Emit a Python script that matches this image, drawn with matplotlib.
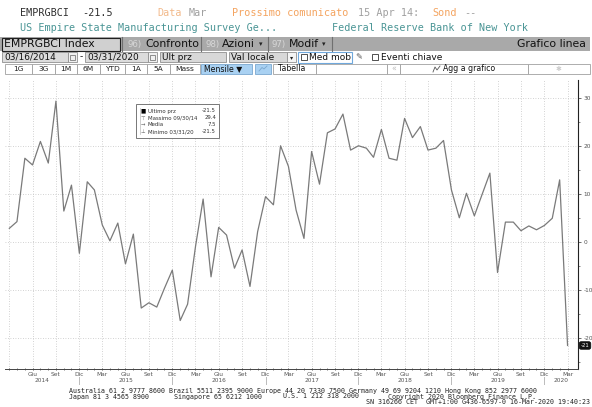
import matplotlib
matplotlib.use("Agg")
import matplotlib.pyplot as plt
import matplotlib.dates as mdates
from matplotlib.patches import Rectangle, FancyBboxPatch
import pandas as pd

# ---------------- data ----------------
start_month = "2014-03-31"
values = [
    2.9, 4.3, 17.5, 16.1, 21.0, 16.5, 29.4, 6.5, 11.9, -2.3,                      # 2014 Mar-Dec
    12.6, 10.9, 3.6, 0.3, 4.0, -4.5, 1.7, -13.7, -12.6, -13.5, -9.6, -5.8,        # 2015
    -16.3, -12.9, -0.9, 9.0, -7.2, 3.1, 1.5, -5.4, -1.6, -9.2, 2.2, 9.5,          # 2016
    7.8, 20.1, 15.8, 6.7, 0.8, 18.9, 12.1, 22.8, 23.6, 26.7, 19.2, 20.1,          # 2017
    19.6, 17.7, 23.5, 17.5, 17.1, 25.8, 21.8, 24.1, 19.2, 19.6, 21.2, 10.9,       # 2018
    5.1, 10.2, 5.5, 9.9, 14.4, -6.3, 4.2, 4.2, 2.4, 3.4, 2.6, 3.5,                # 2019
    5.0, 13.0, -21.5,                                                             # 2020 Jan-Mar
]
month_names = {3: "Mar", 6: "Giu", 9: "Set", 12: "Dic"}
years = [2014, 2015, 2016, 2017, 2018, 2019, 2020]
y_ticks = [-20, -10, 0, 10, 20, 30]

legend_rows = [("Ultimo prz", "-21.5"), ("Massimo 09/30/14", "29.4"),
               ("Media", "7.5"), ("Minimo 03/31/20", "-21.5")]

dates = pd.date_range(start_month, periods=len(values), freq="ME")
xd = mdates.date2num(dates.to_pydatetime())

W, H = 592, 407
fig = plt.figure(figsize=(W / 100, H / 100), dpi=100)
fig.patch.set_facecolor("white")

# ---------------- pixel overlay (header / footer) ----------------
ov = fig.add_axes([0, 0, 1, 1], zorder=0)
ov.set_xlim(0, W)
ov.set_ylim(H, 0)
ov.axis("off")

MONO = "DejaVu Sans Mono"
SANS = "DejaVu Sans"
cw = 6.25
def mono(idx, y, s, color, size=7.3):
    ov.text(20 + idx * cw, y, s, family=MONO, fontsize=size, color=color,
            va="center", ha="left")

orange = "#f4a460"
lgray = "#a0a0a0"
mono(0, 13, "EMPRGBCI", "#303030")
mono(10, 13, "-21.5", "#303030")
mono(22, 13, "Data", "#f2b98a")
mono(27, 13, "Mar", lgray)
mono(34, 13, "Prossimo comunicato", orange)
mono(54, 13, "15 Apr 14:", lgray)
mono(66, 13, "Sond", orange)
mono(71, 13, "--", lgray)
teal = "#4a9595"
mono(0, 28, "US Empire State Manufacturing Survey Ge...", teal)
mono(50, 28, "Federal Reserve Bank of New York", teal)

# toolbar 1
TB = 7.8
ov.add_patch(Rectangle((0, 37), 590, 14, facecolor="#a9a9a9", edgecolor="none"))
ov.add_patch(Rectangle((1.5, 37.5), 118, 13, facecolor="#d0d0d0", edgecolor="#202020", lw=0.8))
ov.text(3.5, 44.2, "EMPRGBCI Index", family=SANS, fontsize=TB, va="center", color="#111")
for xs in (122, 201, 268, 332):
    ov.plot([xs, xs], [37, 51], color="#707070", lw=0.8)
ov.text(127, 44.2, "96)", family=SANS, fontsize=6.2, va="center", color="#d8d8d8")
ov.text(145, 44.2, "Confronto", family=SANS, fontsize=TB, va="center", color="#111")
ov.text(205, 44.2, "98)", family=SANS, fontsize=6.2, va="center", color="#d8d8d8")
ov.text(222, 44.2, "Azioni", family=SANS, fontsize=TB, va="center", color="#111")
ov.text(259, 44.5, "▾", family=SANS, fontsize=5, va="center", color="#222")
ov.text(272, 44.2, "97)", family=SANS, fontsize=6.2, va="center", color="#d8d8d8")
ov.text(289, 44.2, "Modif", family=SANS, fontsize=TB, va="center", color="#111")
ov.text(322, 44.5, "▾", family=SANS, fontsize=5, va="center", color="#222")
ov.text(586, 44.2, "Grafico linea", family=SANS, fontsize=TB, va="center", ha="right", color="#111")

# row 2
def box(x, y, w, h, fc, ec="#909090", lw=0.6):
    ov.add_patch(Rectangle((x, y), w, h, facecolor=fc, edgecolor=ec, lw=lw))
R2 = 6.5
box(2, 52, 66, 10, "#dcdcdc")
box(68, 52, 9, 10, "#f0f0f0")
ov.add_patch(Rectangle((70, 54.5), 5, 5, facecolor="none", edgecolor="#666", lw=0.5))
ov.text(4, 57.2, "03/16/2014", family=SANS, fontsize=R2, va="center", color="#111")
ov.text(80, 57, "-", family=SANS, fontsize=R2, va="center", color="#111")
box(85, 52, 63, 10, "#dcdcdc")
box(148, 52, 9, 10, "#f0f0f0")
ov.add_patch(Rectangle((150, 54.5), 5, 5, facecolor="none", edgecolor="#666", lw=0.5))
ov.text(87, 57.2, "03/31/2020", family=SANS, fontsize=R2, va="center", color="#111")
box(160, 52, 66, 10, "#d8d8d8")
ov.text(162, 57.2, "Ult prz", family=SANS, fontsize=R2, va="center", color="#111")
box(229, 52, 58, 10, "#d8d8d8")
box(287, 52, 9, 10, "#f4f4f4")
ov.text(231, 57.2, "Val locale", family=SANS, fontsize=R2, va="center", color="#111")
ov.text(289.5, 57.5, "▾", family=SANS, fontsize=4.5, va="center", color="#222")
box(298, 51.5, 54, 11, "white", ec="#6fa8dc", lw=0.8)
box(300.5, 54, 6, 6, "white", ec="#333", lw=0.6)
ov.text(309, 57.2, "Med mob", family=SANS, fontsize=R2, va="center", color="#111")
ov.text(355, 57.2, "✎", family=SANS, fontsize=6, va="center", color="#555")
box(372, 54, 6, 6, "white", ec="#333", lw=0.6)
ov.text(381, 57.2, "Eventi chiave", family=SANS, fontsize=R2, va="center", color="#111")

# row 3 buttons
btn_edges = [5, 31.7, 55, 76.7, 100, 125, 146.7, 170, 200]
btn_labels = ["1G", "3G", "1M", "6M", "YTD", "1A", "5A", "Mass"]
for i, lab in enumerate(btn_labels):
    x0, x1 = btn_edges[i], btn_edges[i + 1]
    box(x0, 63.5, x1 - x0, 10, "white", ec="#a0a0a0")
    ov.text((x0 + x1) / 2, 68.7, lab, family=SANS, fontsize=5.4, va="center", ha="center", color="#222")
box(201, 63.5, 51, 10, "#a9d1f2", ec="#7aa7cf")
ov.text(204, 68.7, "Mensile ▼", family=SANS, fontsize=5.6, va="center", color="#111")
box(255, 63.5, 16, 10, "#a9d1f2", ec="#7aa7cf")
ov.plot([259, 262, 264, 267], [71, 67.5, 69, 66], color="#7aa7cf", lw=0.6)
box(273, 63.5, 43, 10, "white", ec="#a0a0a0")
ov.text(278, 68.7, "Tabella", family=SANS, fontsize=5.6, va="center", color="#111")
box(316, 63.5, 71, 10, "white", ec="#a0a0a0")
box(387, 63.5, 13, 10, "white", ec="#a0a0a0")
ov.text(393.5, 68.7, "«", family=SANS, fontsize=5.6, va="center", ha="center", color="#bbb")
box(400, 63.5, 128, 10, "white", ec="#a0a0a0")
ov.text(443, 68.7, "Agg a grafico", family=SANS, fontsize=5.6, va="center", ha="left", color="#111")
ov.plot([433, 435, 437, 440], [72, 67, 70, 66], color="#555", lw=0.6)
box(528, 63.5, 62, 10, "white", ec="#a0a0a0")
ov.text(559, 68.7, "✱", family=SANS, fontsize=5, va="center", ha="center", color="#ccc")

# footer
fs = 4.8
ov.text(69, 391, "Australia 61 2 9777 8600 Brazil 5511 2395 9000 Europe 44 20 7330 7500 "
        "Germany 49 69 9204 1210 Hong Kong 852 2977 6000", family=MONO, fontsize=fs,
        va="center", color="#222")
ov.text(69, 396.5, "Japan 81 3 4565 8900", family=MONO, fontsize=fs, va="center", color="#222")
ov.text(174, 396.5, "Singapore 65 6212 1000", family=MONO, fontsize=fs, va="center", color="#222")
ov.text(283, 396.5, "U.S. 1 212 318 2000", family=MONO, fontsize=fs, va="center", color="#222")
ov.text(388, 396.5, "Copyright 2020 Bloomberg Finance L.P.", family=MONO, fontsize=fs, va="center", color="#222")
ov.text(590, 402, "SN 316266 CET  GMT+1:00 G436-6597-0 16-Mar-2020 19:40:23", family=MONO,
        fontsize=fs, va="center", ha="right", color="#222")

# ---------------- main chart ----------------
ax_l, ax_r, ax_t, ax_b = 5, 578, 80, 369
ax = fig.add_axes([ax_l / W, 1 - ax_b / H, (ax_r - ax_l) / W, (ax_b - ax_t) / H], zorder=1)
ax.set_facecolor("white")
ax.plot(xd, values, color="#7a7a7a", lw=0.9, zorder=3)

ax.set_xlim(xd[0] - 17, xd[-1] + 41)
ax.set_ylim(-26.4, 33.8)

# y axis on right
ax.yaxis.tick_right()
ax.set_yticks(y_ticks)
ax.set_yticklabels([str(v) for v in y_ticks])
ax.set_yticks([v + 5 for v in y_ticks[:-1]] + [-25], minor=True)
ax.tick_params(axis="y", which="major", length=2.5, width=0.6, color="#555",
               labelsize=4.2, labelcolor="#555", pad=1.5)
ax.tick_params(axis="y", which="minor", length=1.5, width=0.5, color="#555")

# x axis quarterly ticks with Italian month names
q_idx = [i for i, d in enumerate(dates) if d.month in month_names]
ax.set_xticks([xd[i] for i in q_idx])
ax.set_xticklabels(["" if i == 0 else month_names[dates[i].month] for i in q_idx])
ax.set_xticks(xd, minor=True)
ax.tick_params(axis="x", which="major", length=2, width=0.6, color="#444",
               labelsize=4.2, labelcolor="#555", pad=1.5, direction="inout")
ax.tick_params(axis="x", which="minor", length=1.5, width=0.5, color="#444", direction="inout")

ax.grid(True, which="major", axis="both", linestyle=(0, (1, 2)), color="#c4c4c4", lw=0.6)
for s in ("top", "left"):
    ax.spines[s].set_visible(False)
ax.spines["right"].set_color("#222")
ax.spines["right"].set_linewidth(0.8)
ax.spines["bottom"].set_color("#444")
ax.spines["bottom"].set_linewidth(0.7)

# year labels and separators
trans = ax.get_xaxis_transform()
x_lo, x_hi = ax.get_xlim()
for yr in years:
    a = max(mdates.date2num(pd.Timestamp(f"{yr - 1}-12-31")), x_lo)
    b = min(mdates.date2num(pd.Timestamp(f"{yr}-12-31")), x_hi)
    ax.text((a + b) / 2, -0.041, str(yr), transform=trans, fontsize=4.2, color="#555",
            ha="center", va="center", clip_on=False)
    if yr > years[0]:
        xs = mdates.date2num(pd.Timestamp(f"{yr - 1}-12-31"))
        ax.plot([xs, xs], [-0.026, -0.053], transform=trans, color="#bbb", lw=0.7, clip_on=False)

# ---------------- top overlay: legend box + last value tag ----------------
top = fig.add_axes([0, 0, 1, 1], zorder=3)
top.set_xlim(0, W)
top.set_ylim(H, 0)
top.axis("off")
top.patch.set_alpha(0)
top.add_patch(Rectangle((136, 104), 83, 34, facecolor="white", edgecolor="#777", lw=0.7))
icons = ["■", "⊤", "→", "⊥"]
for k, (lab, val) in enumerate(legend_rows):
    yy = 111 + k * 6.9
    top.text(143, yy, icons[k], family=SANS, fontsize=4 if k == 0 else 3.8, ha="center", va="center",
             color="#000" if k == 0 else "#666")
    top.text(148, yy, lab, family=SANS, fontsize=3.9, va="center", color="#333")
    top.text(216, yy, val, family=SANS, fontsize=3.9, va="center", ha="right", color="#333")
top.plot([140, 140], [108, 134], color="#bbb", lw=0.5)

# last value tag on right axis
last_px = ax.transData.transform((xd[-1], values[-1]))[1]
tag_y = H - last_px
top.add_patch(FancyBboxPatch((579.5, tag_y - 3.5), 11, 7, boxstyle="round,pad=0.3,rounding_size=2",
                             facecolor="#111", edgecolor="#111", lw=0.5))
top.text(585, tag_y, "-21", family=SANS, fontsize=3.9, color="white", ha="center", va="center")

fig.savefig("out.png", dpi=100)
